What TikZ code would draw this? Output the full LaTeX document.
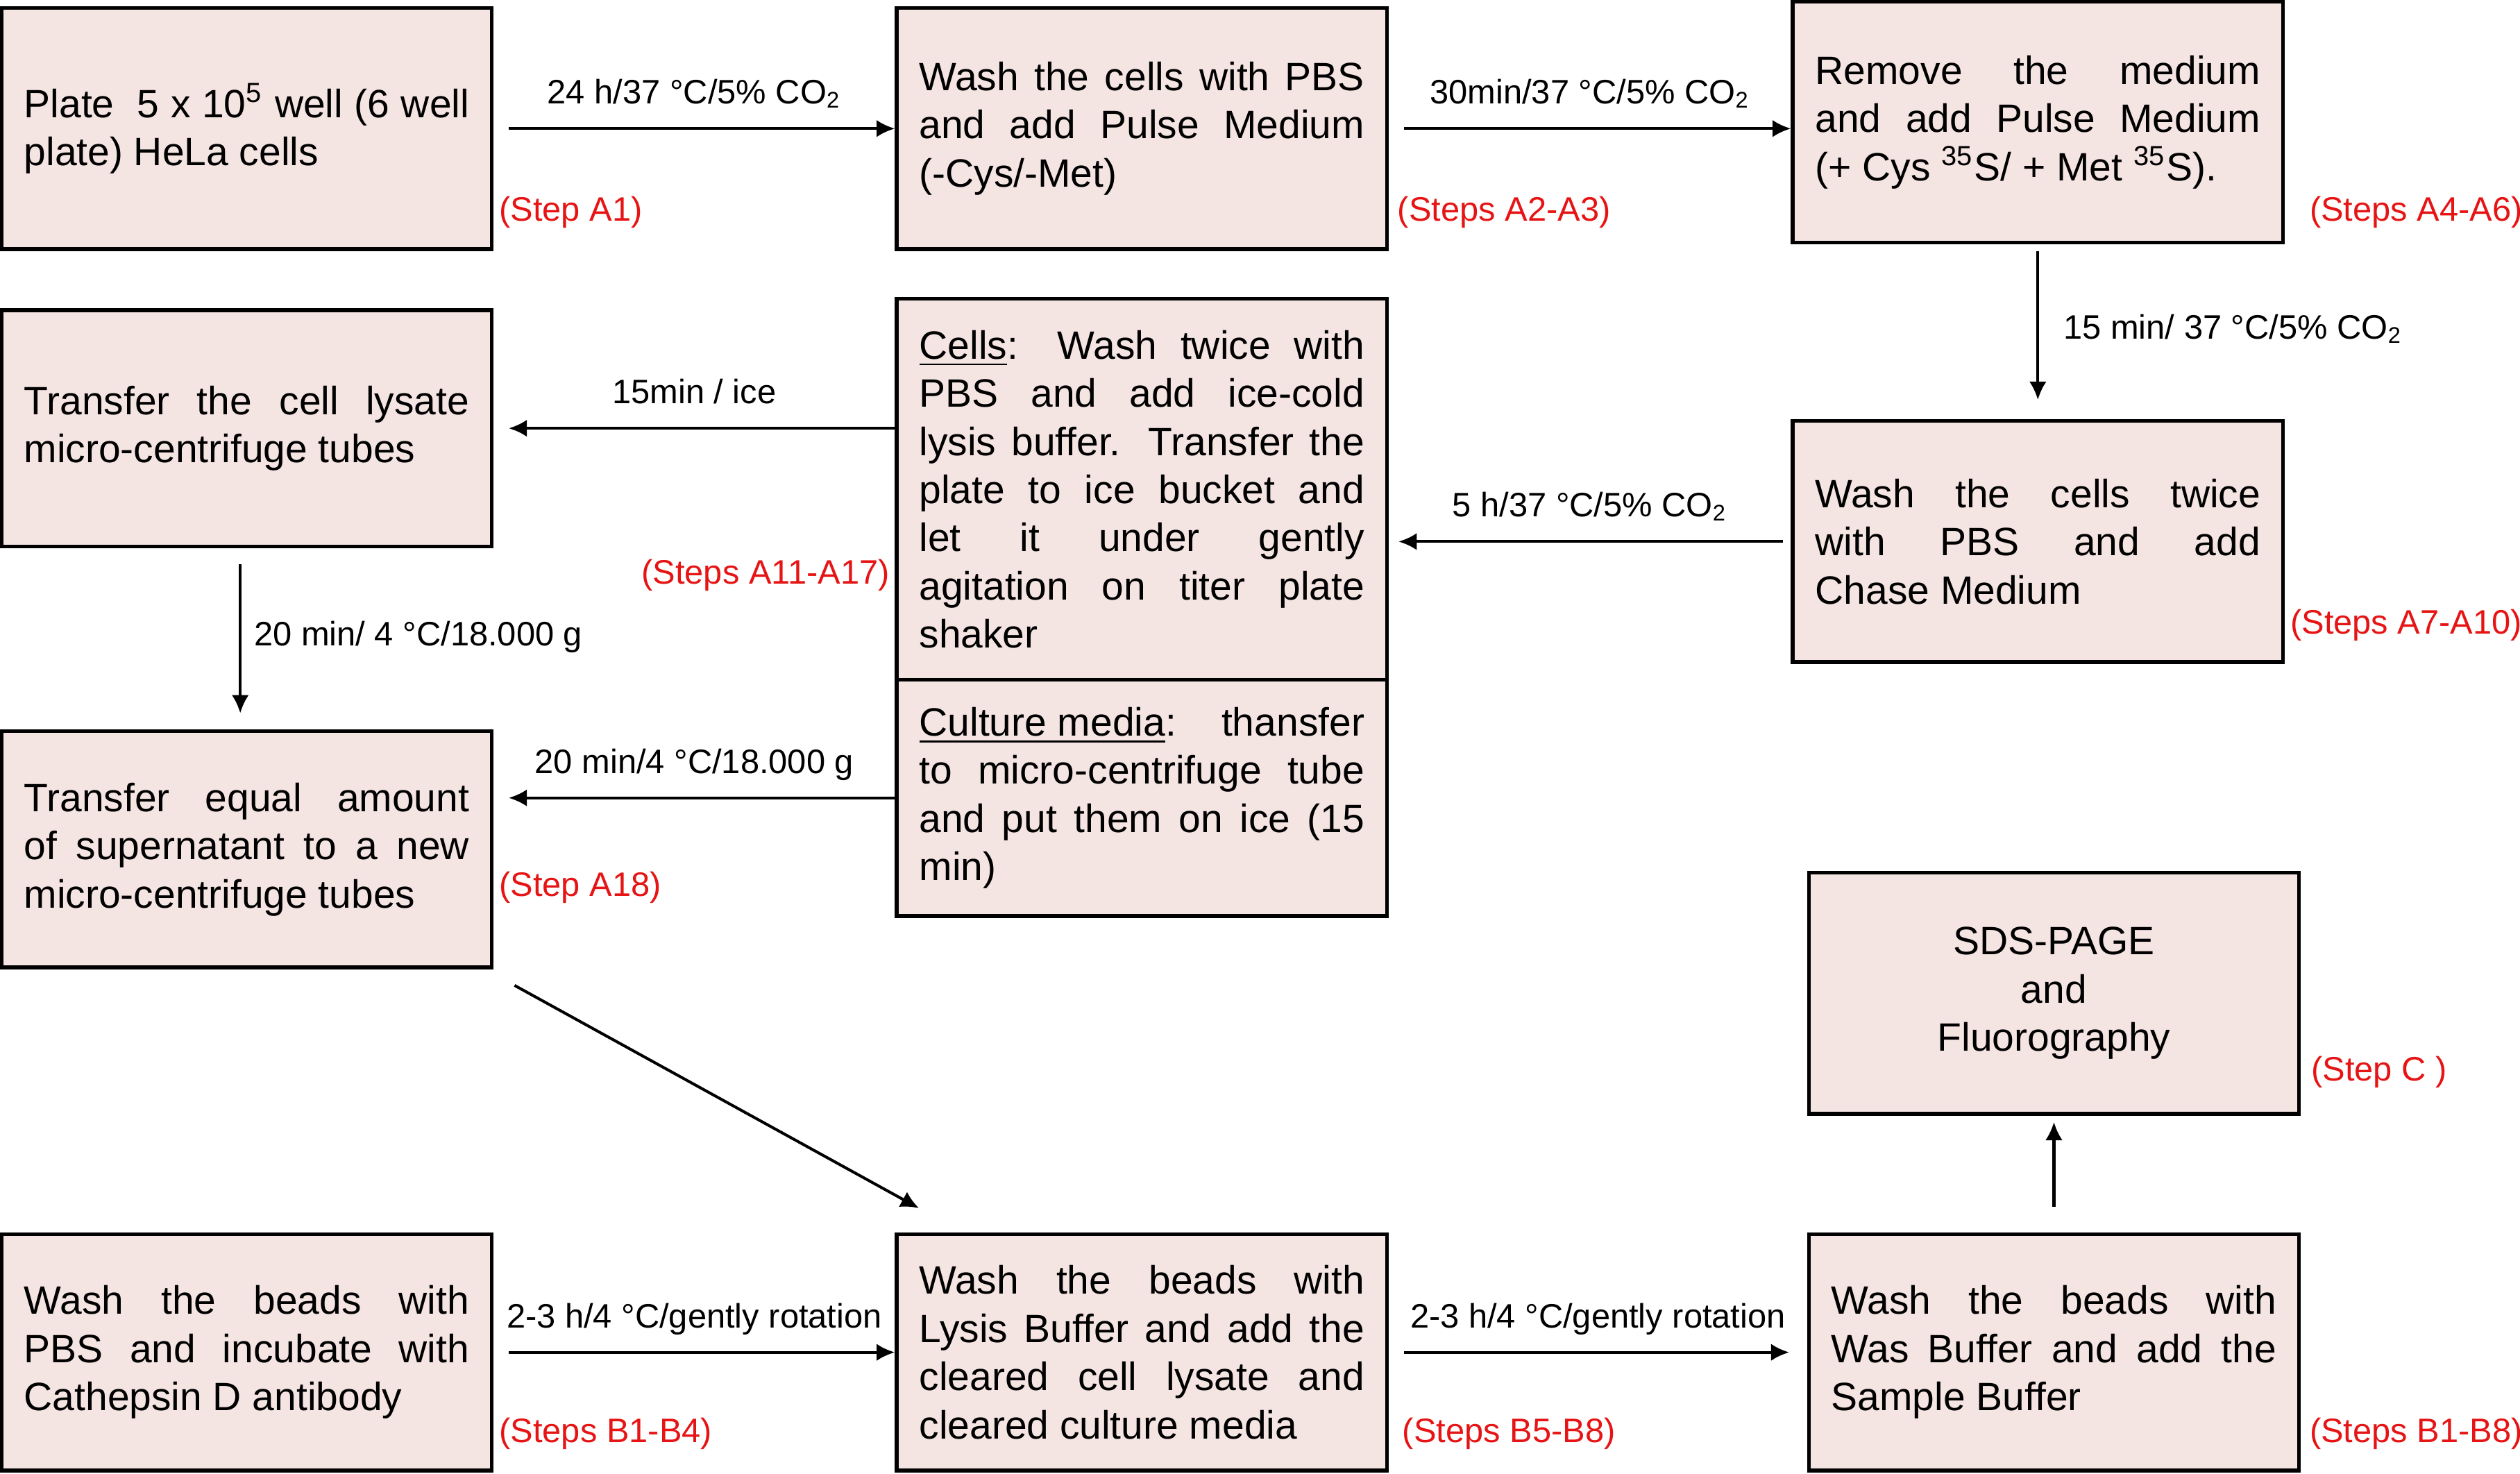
\documentclass[tikz,border=0pt]{standalone}
\usepackage{fontspec}
\setmainfont{Liberation Sans}
\usetikzlibrary{arrows.meta}
\usepackage{xcolor}
\definecolor{boxpink}{RGB}{244,228,226}
\definecolor{stepred}{RGB}{230,20,20}
\tolerance=9999
\hbadness=10000
\hyphenpenalty=10000
\newcommand{\boxjust}[1]{\leavevmode\leftskip=0pt\relax\rightskip=0pt\relax\spaceskip=0pt\relax\xspaceskip=0pt\relax\parfillskip=0pt plus 1fil\relax #1\par}

\begin{document}
\begin{tikzpicture}[x=0.15mm, y=-0.15mm,
  stepbox/.style={draw, line width=1pt, fill=boxpink, text width=41.55mm,
    inner xsep=2.1mm, inner ysep=1mm, minimum height=22.5mm,
    font=\fontsize{10.5}{12.8}\selectfont},
  steplbl/.style={anchor=west, inner sep=0, text=stepred, font=\fontsize{9}{11}\selectfont},
  cond/.style={font=\fontsize{9}{11}\selectfont, text depth=1mm},
  flow/.style={black, line width=0.75pt, ->, >={Latex[length=1.7mm, width=1.6mm]}}]
\useasboundingbox (0,0) rectangle (1568,917);

\node[stepbox] (plate) at (153.5,80) {\boxjust{Plate\ \ 5 x 10\textsuperscript{5} well (6 well\linebreak plate) HeLa cells}};
\node[stepbox] (pulse) at (710.5,80) {\boxjust{Wash the cells with PBS\linebreak and add Pulse Medium\linebreak (-Cys/-Met)}};
\node[stepbox] (remove) at (1268,76) {\boxjust{Remove the medium\linebreak and add Pulse Medium\linebreak (+ Cys \textsuperscript{35}S/ + Met \textsuperscript{35}S).}};
\node[stepbox] (chase) at (1268,337) {\boxjust{Wash the cells twice\linebreak with PBS and add\linebreak Chase Medium}};
\node[stepbox, minimum height=35.55mm] (cells) at (710.5,304.5) {\boxjust{\underline{Cells}: Wash twice with\linebreak PBS and add ice-cold\linebreak lysis buffer. Transfer the\linebreak plate to ice bucket and\linebreak let it under gently\linebreak agitation on titer plate\linebreak shaker}};
\node[stepbox, minimum height=22.05mm] (culture) at (710.5,496.5) {\boxjust{\underline{Culture media}: thansfer\linebreak to micro-centrifuge tube\linebreak and put them on ice (15\linebreak min)}};
\node[stepbox, minimum height=22.05mm] (lysate) at (153.5,266.5) {\boxjust{Transfer the cell lysate\linebreak micro-centrifuge tubes}};
\node[stepbox, minimum height=22.05mm] (superna) at (153.5,528.5) {\boxjust{Transfer equal amount\linebreak of supernatant to a new\linebreak micro-centrifuge tubes}};
\node[stepbox, minimum height=22.05mm] (beads) at (153.5,841.5) {\boxjust{Wash the beads with\linebreak PBS and incubate with\linebreak Cathepsin D antibody}};
\node[stepbox, minimum height=22.05mm] (lysisbuf) at (710.5,841.5) {\boxjust{Wash the beads with\linebreak Lysis Buffer and add the\linebreak cleared cell lysate and\linebreak cleared culture media}};
\node[stepbox, minimum height=22.05mm] (sample) at (1278,841.5) {\boxjust{Wash the beads with\linebreak Was Buffer and add the\linebreak Sample Buffer}};
\node[stepbox, align=center] (sds) at (1278,618) {SDS-PAGE\\and\\Fluorography};

\draw[flow, shorten <=1.4mm] (plate.east) -- (pulse.west) node[midway, above, cond] {24 h/37 °C/5\% CO\textsubscript{2}};
\draw[flow, shorten <=1.4mm] (pulse.east) -- (remove.west |- pulse.east) node[midway, above, cond] {30min/37 °C/5\% CO\textsubscript{2}};
\draw[flow, shorten <=0.6mm, shorten >=1.8mm] (remove.south) -- (chase.north) node[midway, right=1.1mm, cond] {15 min/ 37 °C/5\% CO\textsubscript{2}};
\draw[flow, shorten <=0.75mm, shorten >=0.9mm] (chase.west) -- (chase.west -| cells.east) node[midway, above, cond] {5 h/37 °C/5\% CO\textsubscript{2}};
\draw[flow, shorten >=1.4mm] (cells.west |- lysate.east) -- (lysate.east) node[midway, above, cond] {15min / ice};
\draw[flow, shorten <=1.5mm, shorten >=1.5mm] ([xshift=-0.6mm]lysate.south) -- ([xshift=-0.6mm]superna.north) node[midway, right, cond] {20 min/ 4 °C/18.000 g};
\draw[flow, shorten >=1.4mm] (culture.west) -- (culture.west -| superna.east) node[midway, above, cond] {20 min/4 °C/18.000 g};
\draw[flow] ([shift={(13,10)}]superna.south east) -- ([shift={(15,-15)}]lysisbuf.north west);
\draw[flow, shorten <=1.4mm] (beads.east) -- (lysisbuf.west) node[midway, above, cond] {2-3 h/4 °C/gently rotation};
\draw[flow, shorten <=1.4mm, shorten >=1.65mm] (lysisbuf.east) -- (sample.west) node[midway, above, cond] {2-3 h/4 °C/gently rotation};
\draw[flow, shorten <=2.4mm, shorten >=0.6mm] (sample.north) -- (sds.south);

\node[steplbl] (lblA1) at ([shift={(3,-24)}]plate.south east) {(Step A1)};
\node[steplbl] (lblA2) at ([shift={(5,-24)}]pulse.south east) {(Steps A2-A3)};
\node[steplbl] (lblA4) at ([shift={(15,-20)}]remove.south east) {(Steps A4-A6)};
\node[steplbl] (lblA7) at ([shift={(3,-24)}]chase.south east) {(Steps A7-A10)};
\node[steplbl, anchor=east] (lblA11) at (554,358) {(Steps A11-A17)};
\node[steplbl] (lblA18) at ([shift={(3,-51)}]superna.south east) {(Step A18)};
\node[steplbl] (lblB1) at ([shift={(3,-24)}]beads.south east) {(Steps B1-B4)};
\node[steplbl] (lblB5) at ([shift={(8,-24)}]lysisbuf.south east) {(Steps B5-B8)};
\node[steplbl] (lblB8) at ([shift={(5,-24)}]sample.south east) {(Steps B1-B8)};
\node[steplbl] (lblC) at ([shift={(6,-27)}]sds.south east) {(Step C )};
\end{tikzpicture}
\end{document}
